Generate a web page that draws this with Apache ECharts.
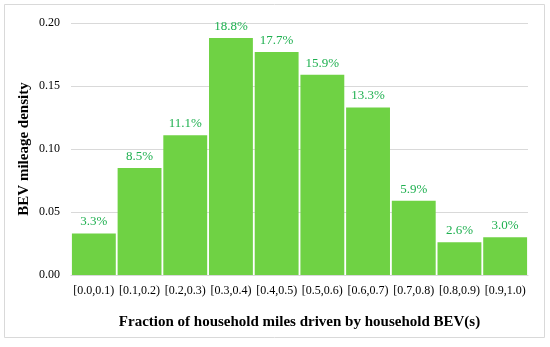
<!DOCTYPE html>
<html><head><meta charset="utf-8">
<script src="https://cdn.jsdelivr.net/npm/echarts@6/dist/echarts.min.js"></script>
<style>html,body{margin:0;padding:0;background:#fff}#c{width:550px;height:347px}</style>
</head><body><div id="c"></div>
<script>
const categories = ['[0.0,0.1)','[0.1,0.2)','[0.2,0.3)','[0.3,0.4)','[0.4,0.5)','[0.5,0.6)','[0.6,0.7)','[0.7,0.8)','[0.8,0.9)','[0.9,1.0)'];
const density = [0.033,0.085,0.111,0.188,0.177,0.159,0.133,0.059,0.026,0.030];
const yTicks = [0, 0.05, 0.10, 0.15, 0.20];
const FONT = '"Liberation Serif","Times New Roman",serif';
const chart = echarts.init(document.getElementById('c'));
chart.setOption({
  animation:false,
  graphic:[{type:'rect',shape:{x:4.5,y:4.5,width:540,height:333},style:{fill:'none',stroke:'#d9d9d9',lineWidth:1}}],
  grid:{left:71,right:22,top:23,bottom:72},
  xAxis:{type:'category',data:categories,
    axisLine:{show:true,lineStyle:{color:'#d9d9d9'}},axisTick:{show:false},
    axisLabel:{fontFamily:FONT,fontSize:12,color:'#000',margin:10,interval:0},
    name:'Fraction of household miles driven by household BEV(s)',nameLocation:'middle',nameGap:40,
    nameTextStyle:{fontFamily:FONT,fontSize:15,fontWeight:'bold',color:'#000'}},
  yAxis:{type:'value',min:0,max:0.2,interval:0.05,
    axisLabel:{fontFamily:FONT,fontSize:12,color:'#000',margin:11,formatter:v=>v.toFixed(2)},
    splitLine:{lineStyle:{color:'#d9d9d9'}},axisLine:{show:false},axisTick:{show:false},
    name:'BEV mileage density',nameLocation:'middle',nameGap:39,nameMoveOverlap:false,
    nameTextStyle:{fontFamily:FONT,fontSize:15,fontWeight:'bold',color:'#000'}},
  series:[{type:'bar',data:density,barCategoryGap:'4%',
    itemStyle:{color:'#6fd244'},
    label:{show:true,position:'top',distance:5,fontFamily:FONT,fontSize:13,color:'#1fb050',
      formatter:p=>(p.value*100).toFixed(1)+'%'}}]
});
</script></body></html>
